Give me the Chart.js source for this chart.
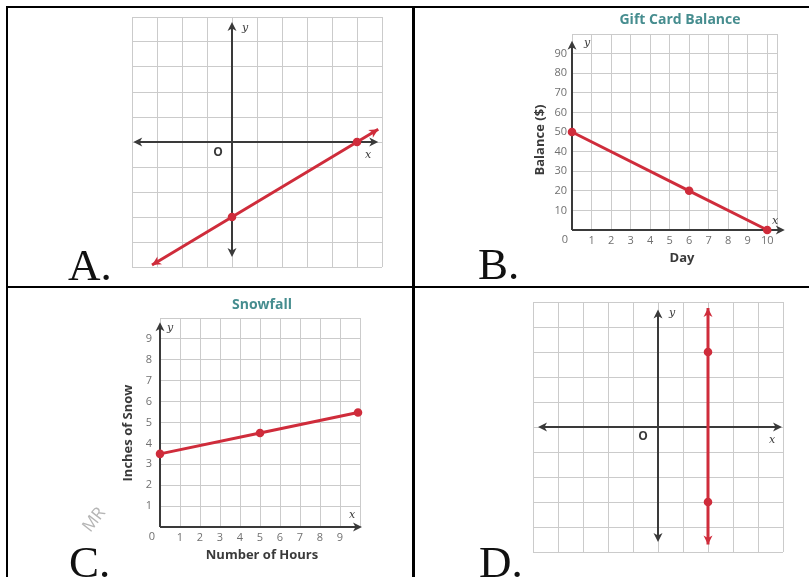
<!DOCTYPE html>
<html>
<head>
<meta charset="utf-8">
<script src="https://cdn.jsdelivr.net/npm/chart.js@4.4.1/dist/chart.umd.min.js"></script>
<style>
html,body{margin:0;padding:0;background:#fff;}
#wrap{position:relative;width:809px;height:577px;overflow:hidden;background:#fff;}
#wrap canvas{position:absolute;left:0;top:0;}
.ln{position:absolute;background:#000;}
.lbl{position:absolute;font-family:"Liberation Serif",serif;font-size:45px;line-height:45px;color:#111;white-space:nowrap;}
.wm{position:absolute;font-family:"Open Sans",sans-serif;font-size:17px;color:#b5b5b5;transform:rotate(-52deg);transform-origin:left top;}
</style>
</head>
<body>
<div id="wrap">
  <canvas id="cA" width="809" height="577"></canvas>
  <canvas id="cB" width="809" height="577"></canvas>
  <canvas id="cC" width="809" height="577"></canvas>
  <canvas id="cD" width="809" height="577"></canvas>
  <div class="ln" style="left:6px;top:6px;width:803px;height:2px"></div>
  <div class="ln" style="left:6px;top:6px;width:2px;height:571px"></div>
  <div class="ln" style="left:412px;top:6px;width:3px;height:571px"></div>
  <div class="ln" style="left:6px;top:286px;width:803px;height:2px"></div>
  <div class="lbl" style="left:68px;top:243px">A.</div>
  <div class="lbl" style="left:478px;top:242px">B.</div>
  <div class="lbl" style="left:69px;top:540px">C.</div>
  <div class="lbl" style="left:479px;top:540px">D.</div>
  <div class="wm" style="left:76px;top:522px">MR</div>
</div>
<script>
// ---------------- data ----------------
// Panel A (coordinate plane, slanted line)
const aGridX = [-4, -3, -2, -1, 0, 1, 2, 3, 4, 5, 6];
const aGridY = [-5, -4, -3, -2, -1, 0, 1, 2, 3, 4, 5];
const aLineX = [-3.2, 0, 5, 5.85];
const aLineY = [-4.92, -3, 0, 0.51];
const aMarked = [false, true, true, false];

// Panel B (Gift Card Balance)
const bTitle = 'Gift Card Balance';
const bXTitle = 'Day';
const bYTitle = 'Balance ($)';
const bGridX = [0, 1, 2, 3, 4, 5, 6, 7, 8, 9, 10, 10.5];
const bXLabels = ['', '1', '2', '3', '4', '5', '6', '7', '8', '9', '10', ''];
const bGridY = [0, 10, 20, 30, 40, 50, 60, 70, 80, 90, 100];
const bYLabels = ['', '10', '20', '30', '40', '50', '60', '70', '80', '90', ''];
const bDay = [0, 6, 10];
const bBalance = [50, 20, 0];
const bMarked = [true, true, true];

// Panel C (Snowfall)
const cTitle = 'Snowfall';
const cXTitle = 'Number of Hours';
const cYTitle = 'Inches of Snow';
const cGridX = [0, 1, 2, 3, 4, 5, 6, 7, 8, 9, 10];
const cXLabels = ['', '1', '2', '3', '4', '5', '6', '7', '8', '9', ''];
const cGridY = [0, 1, 2, 3, 4, 5, 6, 7, 8, 9, 10];
const cYLabels = ['', '1', '2', '3', '4', '5', '6', '7', '8', '9', ''];
const cHours = [0, 5, 9.9];
const cSnow = [3.5, 4.5, 5.48];
const cMarked = [true, true, true];

// Panel D (vertical line x = 2)
const dGridX = [-5, -4, -3, -2, -1, 0, 1, 2, 3, 4, 5];
const dGridY = [-5, -4, -3, -2, -1, 0, 1, 2, 3, 4, 5];
const dLineX = [2, 2, 2, 2];
const dLineY = [-4.7, -3, 3, 4.76];
const dMarked = [false, true, true, false];

// ---------------- styles ----------------
const RED = '#cf2c3b';
const AXIS = '#3a3a3a';
const GRID = '#cbcbcb';
const TICK = '#707070';
const TEAL = '#468d8f';
const DARK = '#3a3a3a';
const LETTER = 'italic 11px "DejaVu Serif"';
const TICKFONT = '11px "Open Sans"';
const TITLEFONT = 'bold 14px "Open Sans"';
const AXTFONT = 'bold 13px "Open Sans"';

function scaleOpts(min, max, grid, labels, size, horiz, pad) {
  return {
    type: 'linear', min: min, max: max, bounds: 'data',
    afterBuildTicks: function (s) { s.ticks = grid.map(function (v) { return { value: v }; }); },
    afterFit: function (s) {
      if (horiz) { s.height = size; } else { s.width = size; }
      s.paddingLeft = 0; s.paddingRight = 0; s.paddingTop = 0; s.paddingBottom = 0;
    },
    grid: { color: GRID, lineWidth: 1, drawTicks: false },
    border: { display: false },
    ticks: {
      display: !!labels, autoSkip: false, maxRotation: 0, minRotation: 0,
      padding: pad || 0, color: TICK, font: { family: 'Open Sans', size: 11 },
      callback: function (v, i) { return labels ? labels[i] : ''; }
    }
  };
}

function arrowHead(ctx, x, y, ang, color) {
  ctx.save();
  ctx.translate(x, y);
  ctx.rotate(ang);
  ctx.beginPath();
  ctx.moveTo(0, 0);
  ctx.lineTo(-9, -4.5);
  ctx.lineTo(-6.5, 0);
  ctx.lineTo(-9, 4.5);
  ctx.closePath();
  ctx.fillStyle = color;
  ctx.fill();
  ctx.restore();
}

function drawAxes(chart, ax) {
  const xs = chart.scales.x, ys = chart.scales.y, ctx = chart.ctx;
  ctx.save();
  ctx.strokeStyle = AXIS;
  ctx.lineWidth = 2;
  const y0 = ys.getPixelForValue(0);
  const x1 = xs.getPixelForValue(ax.xFrom), x2 = xs.getPixelForValue(ax.xTo);
  ctx.beginPath();
  ctx.moveTo(x1 + (ax.xBoth ? 5 : 0), y0);
  ctx.lineTo(x2 - 5, y0);
  ctx.stroke();
  if (ax.xBoth) arrowHead(ctx, x1, y0, Math.PI, AXIS);
  arrowHead(ctx, x2, y0, 0, AXIS);
  const x0 = xs.getPixelForValue(0);
  const yb = ys.getPixelForValue(ax.yFrom), yt = ys.getPixelForValue(ax.yTo);
  ctx.beginPath();
  ctx.moveTo(x0, yb - (ax.yBoth ? 5 : 0));
  ctx.lineTo(x0, yt + 5);
  ctx.stroke();
  if (ax.yBoth) arrowHead(ctx, x0, yb, Math.PI / 2, AXIS);
  arrowHead(ctx, x0, yt, -Math.PI / 2, AXIS);
  ctx.restore();
}

function drawLineArrows(chart, xsArr, ysArr) {
  const xs = chart.scales.x, ys = chart.scales.y, ctx = chart.ctx;
  const n = xsArr.length;
  const p = function (i) { return [xs.getPixelForValue(xsArr[i]), ys.getPixelForValue(ysArr[i])]; };
  const a0 = p(0), a1 = p(1), b0 = p(n - 1), b1 = p(n - 2);
  arrowHead(ctx, a0[0], a0[1], Math.atan2(a0[1] - a1[1], a0[0] - a1[0]), RED);
  arrowHead(ctx, b0[0], b0[1], Math.atan2(b0[1] - b1[1], b0[0] - b1[0]), RED);
}

function drawTexts(ctx, texts) {
  texts.forEach(function (t) {
    ctx.save();
    ctx.font = t.font;
    ctx.fillStyle = t.color || DARK;
    ctx.textAlign = 'center';
    ctx.textBaseline = 'middle';
    ctx.translate(t.x, t.y);
    if (t.rot) ctx.rotate(t.rot);
    ctx.fillText(t.t, 0, 0);
    ctx.restore();
  });
}

function buildChart(p) {
  const W = 809, H = 577;
  const pts = p.xs.map(function (x, i) { return { x: x, y: p.ys[i] }; });
  const radii = p.marked.map(function (m) { return m ? 2.8 : 0; });
  return new Chart(document.getElementById(p.id), {
    type: 'scatter',
    data: {
      datasets: [{
        data: pts, showLine: true, tension: 0,
        borderColor: RED, backgroundColor: RED,
        pointBackgroundColor: RED, pointBorderColor: RED,
        borderWidth: 3, pointRadius: radii, pointHoverRadius: radii, clip: false
      }]
    },
    options: {
      responsive: false, maintainAspectRatio: false, animation: false, events: [],
      layout: { padding: { left: p.area[0] - p.yW, top: p.area[1], right: W - p.area[2], bottom: H - p.area[3] - p.xH } },
      plugins: { legend: { display: false }, tooltip: { enabled: false }, title: { display: false } },
      scales: {
        x: scaleOpts(p.xMin, p.xMax, p.gridX, p.xLabels, p.xH, true, p.xPad),
        y: scaleOpts(p.yMin, p.yMax, p.gridY, p.yLabels, p.yW, false, p.yPad)
      }
    },
    plugins: [{
      id: 'decor',
      beforeDatasetsDraw: function (chart) { drawAxes(chart, p.axes); },
      afterDatasetsDraw: function (chart) {
        if (p.lineArrows) drawLineArrows(chart, p.xs, p.ys);
        drawTexts(chart.ctx, p.texts);
      }
    }]
  });
}

// Panel A
buildChart({
  id: 'cA', area: [132, 17, 382, 267], yW: 0, xH: 0,
  xMin: -4, xMax: 6, yMin: -5, yMax: 5,
  gridX: aGridX, gridY: aGridY, xLabels: null, yLabels: null,
  xs: aLineX, ys: aLineY, marked: aMarked, lineArrows: true,
  axes: { xFrom: -3.95, xTo: 5.85, xBoth: true, yFrom: -4.6, yTo: 4.8, yBoth: true },
  texts: [
    { t: 'y', x: 245, y: 28, font: LETTER },
    { t: 'x', x: 368, y: 155, font: LETTER },
    { t: 'O', x: 218, y: 153, font: 'bold 12px "Open Sans"' }
  ]
});

// Panel B
buildChart({
  id: 'cB', area: [572, 34, 777, 230], yW: 40, xH: 25,
  xMin: 0, xMax: 10.5, yMin: 0, yMax: 100,
  gridX: bGridX, gridY: bGridY, xLabels: bXLabels, yLabels: bYLabels, xPad: 4, yPad: 5,
  xs: bDay, ys: bBalance, marked: bMarked, lineArrows: false,
  axes: { xFrom: 0, xTo: 10.9, xBoth: false, yFrom: 0, yTo: 96.5, yBoth: false },
  texts: [
    { t: bTitle, x: 680, y: 20, font: TITLEFONT, color: TEAL },
    { t: 'y', x: 587, y: 43, font: LETTER },
    { t: 'x', x: 775, y: 221, font: LETTER },
    { t: '0', x: 565, y: 240, font: TICKFONT, color: TICK },
    { t: bYTitle, x: 540, y: 140, font: AXTFONT, rot: -Math.PI / 2 },
    { t: bXTitle, x: 682, y: 258, font: AXTFONT }
  ]
});

// Panel C
buildChart({
  id: 'cC', area: [160, 318, 360, 527], yW: 40, xH: 25,
  xMin: 0, xMax: 10, yMin: 0, yMax: 10,
  gridX: cGridX, gridY: cGridY, xLabels: cXLabels, yLabels: cYLabels, xPad: 4, yPad: 8,
  xs: cHours, ys: cSnow, marked: cMarked, lineArrows: false,
  axes: { xFrom: 0, xTo: 10.1, xBoth: false, yFrom: 0, yTo: 9.8, yBoth: false },
  texts: [
    { t: cTitle, x: 262, y: 305, font: TITLEFONT, color: TEAL },
    { t: 'y', x: 170, y: 328, font: LETTER },
    { t: 'x', x: 352, y: 515, font: LETTER },
    { t: '0', x: 152, y: 537, font: TICKFONT, color: TICK },
    { t: cYTitle, x: 128, y: 433, font: AXTFONT, rot: -Math.PI / 2 },
    { t: cXTitle, x: 262, y: 555, font: AXTFONT }
  ]
});

// Panel D
buildChart({
  id: 'cD', area: [533, 302, 783, 552], yW: 0, xH: 0,
  xMin: -5, xMax: 5, yMin: -5, yMax: 5,
  gridX: dGridX, gridY: dGridY, xLabels: null, yLabels: null,
  xs: dLineX, ys: dLineY, marked: dMarked, lineArrows: true,
  axes: { xFrom: -4.8, xTo: 4.96, xBoth: true, yFrom: -4.6, yTo: 4.7, yBoth: true },
  texts: [
    { t: 'y', x: 672, y: 313, font: LETTER },
    { t: 'x', x: 772, y: 440, font: LETTER },
    { t: 'O', x: 643, y: 437, font: 'bold 12px "Open Sans"' }
  ]
});
</script>
</body>
</html>
